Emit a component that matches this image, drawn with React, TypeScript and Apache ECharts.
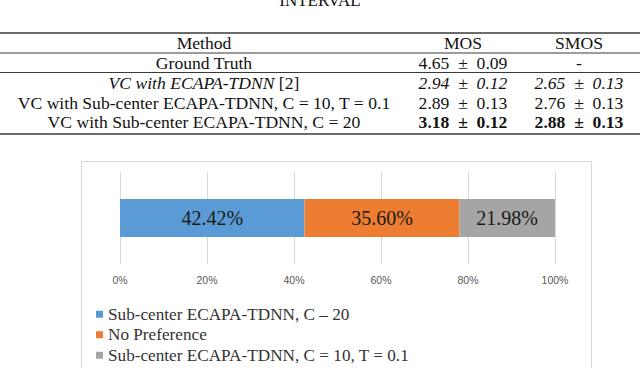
import React, { useEffect, useRef } from "react";
import * as echarts from "echarts";

// ---- table data ----
const captionText = "INTERVAL";
const tableHeaders = ["Method", "MOS", "SMOS"];
const methods = [
  "Ground Truth",
  "VC with ECAPA-TDNN [2]",
  "VC with Sub-center ECAPA-TDNN, C = 10, T = 0.1",
  "VC with Sub-center ECAPA-TDNN, C = 20",
];
const mosValues = ["4.65 ± 0.09", "2.94 ± 0.12", "2.89 ± 0.13", "3.18 ± 0.12"];
const smosValues = ["-", "2.65 ± 0.13", "2.76 ± 0.13", "2.88 ± 0.13"];
const rowStyles = ["normal", "italic", "normal", "bold"];

// ---- preference chart data ----
const categories = ["Preference"];
const seriesNames = [
  "Sub-center ECAPA-TDNN, C – 20",
  "No Preference",
  "Sub-center ECAPA-TDNN, C = 10, T = 0.1",
];
const seriesValues = [42.42, 35.6, 21.98];
const seriesColors = ["#5b9bd5", "#ed7d31", "#a5a5a5"];

const SERIF = "Liberation Serif, serif";
const FS = 17.6;

// math-style spacing around the ± operator
const pm = (s: string) => s.replace(/ ± /g, "\u2002±\u2002");

export default function App() {
  const ref = useRef<HTMLDivElement>(null);

  useEffect(() => {
    if (!ref.current) return;
    const chart = echarts.init(ref.current, null, { renderer: "svg" });

    const colX = [204, 463, 579];
    const headerY = 43;
    const rowY = [63, 83, 102.5, 122];

    const graphics: any[] = [];
    // caption (cut off at top, as in the page excerpt)
    graphics.push({
      type: "text",
      style: {
        text: captionText,
        x: 320,
        y: 9,
        align: "center",
        textAlign: "center",
        verticalAlign: "bottom",
        textVerticalAlign: "bottom",
        fontFamily: SERIF,
        fontSize: 17,
        fill: "#111",
      },
    });
    // rules
    const rules = [
      { y: 33, w: 1.6 },
      { y: 53, w: 1 },
      { y: 72.5, w: 1 },
      { y: 134, w: 1.6 },
    ];
    rules.forEach((r) =>
      graphics.push({
        type: "line",
        shape: { x1: 0, y1: r.y, x2: 640, y2: r.y },
        style: { stroke: "#3a3a3a", lineWidth: r.w },
      })
    );
    const txt = (text: string, x: number, y: number, extra: any = {}) => ({
      type: "text",
      style: {
        text,
        x,
        y,
        align: "center",
        textAlign: "center",
        verticalAlign: "middle",
        textVerticalAlign: "middle",
        fontFamily: SERIF,
        fontSize: FS,
        fill: "#111",
        ...extra,
      },
    });
    tableHeaders.forEach((h, i) => graphics.push(txt(h, colX[i], headerY)));
    methods.forEach((m, i) => {
      const st = rowStyles[i];
      if (st === "italic") {
        const idx = m.lastIndexOf(" [");
        const main = idx >= 0 ? m.slice(0, idx) : m;
        const ref2 = idx >= 0 ? m.slice(idx) : "";
        graphics.push(
          txt(`{i|${main}}{n|${ref2}}`, colX[0], rowY[i], {
            rich: {
              i: { fontStyle: "italic", fontFamily: SERIF, fontSize: FS, fill: "#111" },
              n: { fontFamily: SERIF, fontSize: FS, fill: "#111" },
            },
          })
        );
      } else {
        graphics.push(txt(m, colX[0], rowY[i]));
      }
      const extra: any = {};
      if (st === "italic") extra.fontStyle = "italic";
      if (st === "bold") extra.fontWeight = "bold";
      graphics.push(txt(pm(mosValues[i]), colX[1], rowY[i], extra));
      graphics.push(txt(pm(smosValues[i]), colX[2], rowY[i], extra));
    });
    // chart frame
    graphics.push({
      type: "rect",
      shape: { x: 81.5, y: 161.5, width: 510, height: 240 },
      style: { fill: "none", stroke: "#d9d9d9", lineWidth: 1 },
      z: -1,
    });

    chart.setOption({
      animation: false,
      graphic: graphics,
      grid: { left: 120, right: 85, top: 172, height: 92, containLabel: false },
      xAxis: {
        type: "value",
        min: 0,
        max: 100,
        interval: 20,
        axisLine: { show: false },
        axisTick: { show: false },
        axisLabel: {
          formatter: "{value}%",
          color: "#595959",
          fontFamily: "Liberation Sans, Arial, sans-serif",
          fontSize: 10.5,
          margin: 10,
        },
        splitLine: { show: true, lineStyle: { color: "#d9d9d9", width: 1 } },
      },
      yAxis: {
        type: "category",
        data: categories,
        axisLine: { show: false },
        axisTick: { show: false },
        axisLabel: { show: false },
      },
      legend: {
        orient: "vertical",
        left: 96,
        top: 304,
        padding: 0,
        icon: "rect",
        itemWidth: 7,
        itemHeight: 7,
        itemGap: 0,
        textStyle: {
          fontFamily: SERIF,
          fontSize: 17.2,
          color: "#333",
          lineHeight: 20.5,
        },
        data: seriesNames,
      },
      series: seriesNames.map((name, i) => ({
        name,
        type: "bar",
        stack: "total",
        barWidth: 38,
        data: [seriesValues[i]],
        itemStyle: { color: seriesColors[i] },
        label: {
          show: true,
          position: "inside",
          formatter: (p: any) => `${Number(p.value).toFixed(2)}%`,
          fontFamily: SERIF,
          fontSize: 20,
          color: "#1a1a1a",
        },
      })),
    });

    return () => chart.dispose();
  }, []);

  return (
    <div
      ref={ref}
      style={{ position: "fixed", left: 0, top: 0, width: 640, height: 368, background: "#fff" }}
    />
  );
}
